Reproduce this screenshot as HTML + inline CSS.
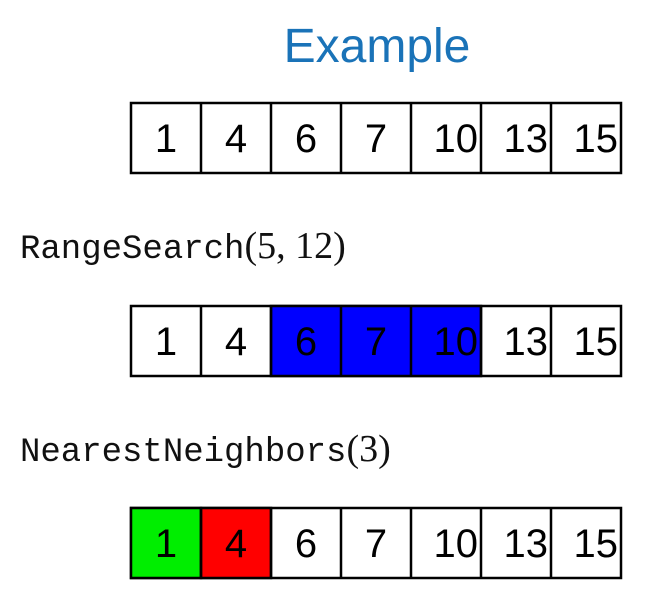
<!DOCTYPE html>
<html><head><style>
body{margin:0;background:#fff;width:661px;height:590px;overflow:hidden}
</style></head><body>
<svg width="661" height="590" xmlns="http://www.w3.org/2000/svg" font-family="Liberation Sans, sans-serif">
<text x="377" y="62" text-anchor="middle" font-size="48" fill="#1a73b8">Example</text>
<text x="20" y="258" font-family="Liberation Mono, monospace" font-size="34" fill="#111">RangeSearch<tspan font-family="Liberation Serif, serif" font-size="38">(5, 12)</tspan></text>
<text x="20" y="461" font-family="Liberation Mono, monospace" font-size="34" fill="#111">NearestNeighbors<tspan font-family="Liberation Serif, serif" font-size="38">(3)</tspan></text>
<g stroke="#000" stroke-width="2.5">
<rect x="131" y="103" width="490" height="70" fill="#fff"/>
<rect x="131" y="306" width="490" height="70" fill="#fff"/>
<rect x="271" y="306" width="210" height="70" fill="#0000ff"/>
<rect x="131" y="508" width="490" height="70" fill="#fff"/>
<rect x="131" y="508" width="70" height="70" fill="#00ee00"/>
<rect x="201" y="508" width="70" height="70" fill="#ff0000"/>
<g>
<line x1="201" y1="103" x2="201" y2="173"/><line x1="271" y1="103" x2="271" y2="173"/><line x1="341" y1="103" x2="341" y2="173"/><line x1="411" y1="103" x2="411" y2="173"/><line x1="481" y1="103" x2="481" y2="173"/><line x1="551" y1="103" x2="551" y2="173"/>
<line x1="201" y1="306" x2="201" y2="376"/><line x1="271" y1="306" x2="271" y2="376"/><line x1="341" y1="306" x2="341" y2="376"/><line x1="411" y1="306" x2="411" y2="376"/><line x1="481" y1="306" x2="481" y2="376"/><line x1="551" y1="306" x2="551" y2="376"/>
<line x1="201" y1="508" x2="201" y2="578"/><line x1="271" y1="508" x2="271" y2="578"/><line x1="341" y1="508" x2="341" y2="578"/><line x1="411" y1="508" x2="411" y2="578"/><line x1="481" y1="508" x2="481" y2="578"/><line x1="551" y1="508" x2="551" y2="578"/>
</g>
</g>
<g font-size="40" fill="#000">
<text x="166" y="152" text-anchor="middle">1</text><text x="236" y="152" text-anchor="middle">4</text><text x="306" y="152" text-anchor="middle">6</text><text x="376" y="152" text-anchor="middle">7</text><text x="478" y="152" text-anchor="end">10</text><text x="548" y="152" text-anchor="end">13</text><text x="618" y="152" text-anchor="end">15</text>
<text x="166" y="355" text-anchor="middle">1</text><text x="236" y="355" text-anchor="middle">4</text><text x="306" y="355" text-anchor="middle">6</text><text x="376" y="355" text-anchor="middle">7</text><text x="478" y="355" text-anchor="end">10</text><text x="548" y="355" text-anchor="end">13</text><text x="618" y="355" text-anchor="end">15</text>
<text x="166" y="557" text-anchor="middle">1</text><text x="236" y="557" text-anchor="middle">4</text><text x="306" y="557" text-anchor="middle">6</text><text x="376" y="557" text-anchor="middle">7</text><text x="478" y="557" text-anchor="end">10</text><text x="548" y="557" text-anchor="end">13</text><text x="618" y="557" text-anchor="end">15</text>
</g>
</svg>
</body></html>
